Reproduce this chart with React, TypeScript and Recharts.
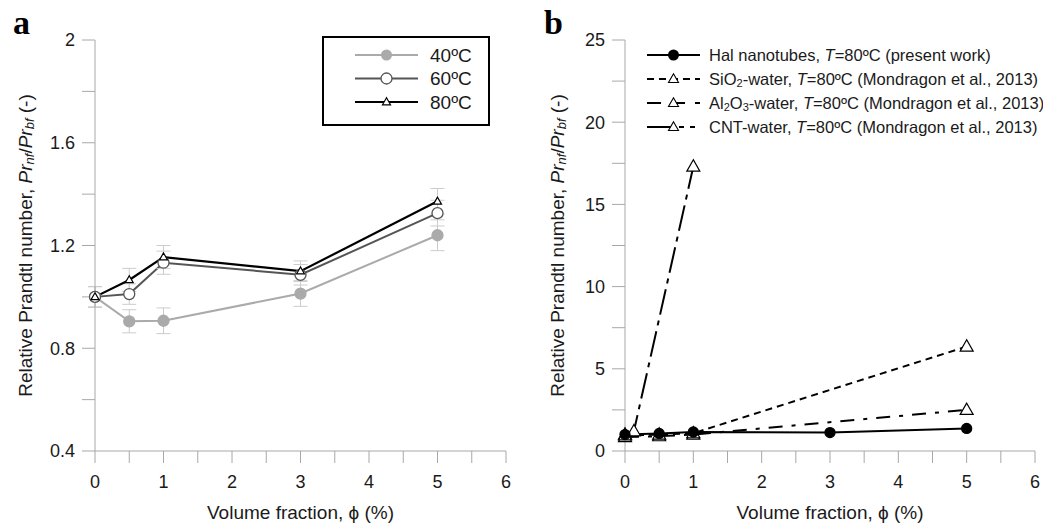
import React from 'react';
import { LineChart, Line, XAxis, YAxis, ErrorBar, Legend } from 'recharts';

// panel a: relative Prandtl number vs volume fraction, three temperatures
const fractions = [0, 0.5, 1, 3, 5];
const pr40 = [1.0, 0.905, 0.907, 1.013, 1.24];
const pr60 = [1.0, 1.011, 1.133, 1.086, 1.326];
const pr80 = [1.0, 1.066, 1.155, 1.1, 1.372];
const err40 = [0.04, 0.045, 0.05, 0.05, 0.06];
const err60 = [0.04, 0.04, 0.045, 0.04, 0.05];
const err80 = [0.04, 0.045, 0.045, 0.04, 0.05];

// panel b: comparison with literature (T = 80 ºC)
const halX = [0, 0.5, 1, 3, 5];
const halY = [1.0, 1.066, 1.155, 1.12, 1.372];
const sioX = [0, 0.5, 1, 5];
const sioY = [0.95, 1.0, 1.08, 6.35];
const alX = [0, 0.5, 1, 5];
const alY = [0.85, 0.9, 1.0, 2.5];
const cntX = [0, 0.13, 1];
const cntY = [1.0, 1.2, 17.3];

// ticks
const xTicks = [0, 0.5, 1, 1.5, 2, 2.5, 3, 3.5, 4, 4.5, 5, 5.5, 6];
const xLabels = [0, 1, 2, 3, 4, 5, 6];
const yTicksA = [0.4, 0.6, 0.8, 1.0, 1.2, 1.4, 1.6, 1.8, 2.0];
const yLabelsA = [0.4, 0.8, 1.2, 1.6, 2.0];
const yTicksB = [0, 2.5, 5, 7.5, 10, 12.5, 15, 17.5, 20, 22.5, 25];
const yLabelsB = [0, 5, 10, 15, 20, 25];

const legendA = ['40ºC', '60ºC', '80ºC'];

const dataA = fractions.map((x, i) => ({
  x, t40: pr40[i], t60: pr60[i], t80: pr80[i], e40: err40[i], e60: err60[i], e80: err80[i],
}));
const toPts = (xs: number[], ys: number[]) => xs.map((x, i) => ({ x, y: ys[i] }));

const AXIS = '#a8a8a8';
const TXT = '#1a1a1a';
const FONT = '"Liberation Sans", Arial, sans-serif';

const has = (list: number[], v: number) => list.some((l) => Math.abs(l - v) < 1e-6);
const fmt = (v: number) => String(Math.round(v * 10) / 10);

const triPoints = (cx: number, cy: number, s: number) => {
  const h = s * 0.87;
  return `${cx},${cy - h * 0.6} ${cx - s / 2},${cy + h * 0.4} ${cx + s / 2},${cy + h * 0.4}`;
};

const triDot = (s: number) => (p: any) => {
  if (p.cx == null || p.cy == null) return <g key={`n${p.index}`} />;
  return <polygon key={`t${p.index}`} points={triPoints(p.cx, p.cy, s)} fill="#fff" stroke="#000" strokeWidth={1.2} />;
};

const circleDot = (r: number, fill: string, stroke: string) => (p: any) => {
  if (p.cx == null || p.cy == null) return <g key={`n${p.index}`} />;
  return <circle key={`c${p.index}`} cx={p.cx} cy={p.cy} r={r} fill={fill} stroke={stroke} strokeWidth={1.3} />;
};

const YTitle = ({ viewBox, dx }: any) => {
  const cx = (viewBox?.x ?? 0) + dx;
  const cy = (viewBox?.y ?? 0) + (viewBox?.height ?? 0) / 2;
  return (
    <text x={cx} y={cy} transform={`rotate(-90 ${cx} ${cy})`} textAnchor="middle" dominantBaseline="central"
      fontSize={19} fill={TXT} fontFamily={FONT}>
      Relative Prandtl number, <tspan fontStyle="italic">Pr</tspan>
      <tspan fontStyle="italic" fontSize={13} dy={4}>nf</tspan>
      <tspan dy={-4}>/</tspan><tspan fontStyle="italic">Pr</tspan>
      <tspan fontStyle="italic" fontSize={13} dy={4}>bf</tspan>
      <tspan dy={-4}> (-)</tspan>
    </text>
  );
};

const XTitle = ({ viewBox }: any) => {
  const cx = (viewBox?.x ?? 0) + (viewBox?.width ?? 0) / 2;
  return (
    <text x={cx} y={512} textAnchor="middle" dominantBaseline="central" fontSize={19} fill={TXT} fontFamily={FONT}>
      Volume fraction, ϕ (%)
    </text>
  );
};

const LegendBoxA = () => (
  <svg width={172} height={94} style={{ overflow: 'visible' }}>
    <rect x={1} y={1} width={166} height={88} fill="#fff" stroke="#000" strokeWidth={2} />
    {legendA.map((name, i) => {
      const y = 19 + i * 23.5;
      const col = ['#aaaaaa', '#555555', '#000000'][i];
      return (
        <g key={name}>
          <line x1={33} x2={96} y1={y} y2={y} stroke={col} strokeWidth={2} />
          {i === 0 && <circle cx={64.5} cy={y} r={5.5} fill="#aaaaaa" />}
          {i === 1 && <circle cx={64.5} cy={y} r={5.5} fill="#fff" stroke="#555" strokeWidth={1.3} />}
          {i === 2 && <polygon points={triPoints(64.5, y, 8)} fill="#fff" stroke="#000" strokeWidth={1.2} />}
          <text x={108} y={y} dominantBaseline="central" fontSize={19} fill={TXT} fontFamily={FONT}>{name}</text>
        </g>
      );
    })}
  </svg>
);

const LegendBoxB = () => {
  const rows = [
    { dash: undefined, mark: 'dot', text: <>Hal nanotubes, <tspan fontStyle="italic">T</tspan>=80ºC (present work)</> },
    { dash: '7 5', mark: 'tri', text: <>SiO<tspan fontSize={11} dy={4}>2</tspan><tspan dy={-4}>-water, </tspan><tspan fontStyle="italic">T</tspan>=80ºC (Mondragon et al., 2013)</> },
    { dash: '14 10', mark: 'tri', text: <>Al<tspan fontSize={11} dy={4}>2</tspan><tspan dy={-4}>O</tspan><tspan fontSize={11} dy={4}>3</tspan><tspan dy={-4}>-water, </tspan><tspan fontStyle="italic">T</tspan>=80ºC (Mondragon et al., 2013)</> },
    { dash: '26 6 5 6 5 6', mark: 'tri', text: <>CNT-water, <tspan fontStyle="italic">T</tspan>=80ºC (Mondragon et al., 2013)</> },
  ];
  return (
    <svg width={400} height={100} style={{ overflow: 'visible' }}>
      {rows.map((r, i) => {
        const y = 15 + i * 24;
        return (
          <g key={i}>
            <line x1={7} x2={60} y1={y} y2={y} stroke="#000" strokeWidth={2} strokeDasharray={r.dash} />
            {r.mark === 'dot'
              ? <circle cx={33.5} cy={y} r={5.5} fill="#000" />
              : <polygon points={triPoints(33.5, y, 10)} fill="#fff" stroke="#000" strokeWidth={1.1} />}
            <text x={69} y={y} dominantBaseline="central" fontSize={16.5} fill={TXT} fontFamily={FONT}>{r.text}</text>
          </g>
        );
      })}
    </svg>
  );
};

const letter: React.CSSProperties = {
  position: 'absolute', fontFamily: '"Liberation Serif", "Times New Roman", serif', fontWeight: 'bold',
  fontSize: 34, lineHeight: '34px', color: '#000',
};

const tickStyle = { fill: TXT, fontSize: 18, fontFamily: FONT };

export default function App() {
  return (
    <div style={{ position: 'absolute', left: 0, top: 0, width: 1043, height: 523, background: '#fff', overflow: 'hidden' }}>
      <div style={{ position: 'absolute', left: 0, top: 0 }}>
        <LineChart width={520} height={523} data={dataA} margin={{ top: 40, right: 14, bottom: 0, left: 0 }}>
          <XAxis dataKey="x" type="number" domain={[0, 6]} ticks={xTicks} interval={0}
            tickFormatter={(v: number) => (has(xLabels, v) ? fmt(v) : '')}
            stroke={AXIS} tickSize={12} tickMargin={12} tick={tickStyle} height={72}
            label={<XTitle />} />
          <YAxis type="number" domain={[0.4, 2]} ticks={yTicksA} interval={0}
            tickFormatter={(v: number) => (has(yLabelsA, v) ? fmt(v) : '')}
            stroke={AXIS} tickSize={13} tickMargin={7} tick={tickStyle} width={95}
            label={<YTitle dx={25} />} />
          <Legend layout="horizontal" verticalAlign="middle" align="center" content={<LegendBoxA />}
            wrapperStyle={{ left: 322, top: 36, width: 172, height: 94 }} />
          <Line dataKey="t40" stroke="#aaaaaa" strokeWidth={2} dot={circleDot(5.5, '#aaaaaa', '#aaaaaa')}
            isAnimationActive={false} legendType="none">
            <ErrorBar dataKey="e40" direction="y" width={7} stroke="#cccccc" strokeWidth={1} />
          </Line>
          <Line dataKey="t60" stroke="#555555" strokeWidth={2} dot={circleDot(5.5, '#ffffff', '#555555')}
            isAnimationActive={false} legendType="none">
            <ErrorBar dataKey="e60" direction="y" width={7} stroke="#cccccc" strokeWidth={1} />
          </Line>
          <Line dataKey="t80" stroke="#000000" strokeWidth={2.2} dot={triDot(8)}
            isAnimationActive={false} legendType="none">
            <ErrorBar dataKey="e80" direction="y" width={7} stroke="#cccccc" strokeWidth={1} />
          </Line>
        </LineChart>
      </div>
      <div style={{ position: 'absolute', left: 520, top: 0 }}>
        <LineChart width={523} height={523} margin={{ top: 40, right: 8, bottom: 0, left: 0 }}>
          <XAxis dataKey="x" type="number" domain={[0, 6]} ticks={xTicks} interval={0}
            tickFormatter={(v: number) => (has(xLabels, v) ? fmt(v) : '')}
            stroke={AXIS} tickSize={12} tickMargin={12} tick={tickStyle} height={72}
            label={<XTitle />} />
          <YAxis type="number" domain={[0, 25]} ticks={yTicksB} interval={0}
            tickFormatter={(v: number) => (has(yLabelsB, v) ? fmt(v) : '')}
            stroke={AXIS} tickSize={13} tickMargin={7} tick={tickStyle} width={105}
            label={<YTitle dx={37} />} />
          <Legend layout="horizontal" verticalAlign="middle" align="center" content={<LegendBoxB />}
            wrapperStyle={{ left: 120, top: 40, width: 400, height: 100 }} />
          <Line data={toPts(cntX, cntY)} dataKey="y" stroke="#000" strokeWidth={2} strokeDasharray="26 6 5 6"
            dot={triDot(13)} isAnimationActive={false} legendType="none" />
          <Line data={toPts(alX, alY)} dataKey="y" stroke="#000" strokeWidth={2} strokeDasharray="14 9 4 9"
            dot={triDot(13)} isAnimationActive={false} legendType="none" />
          <Line data={toPts(sioX, sioY)} dataKey="y" stroke="#000" strokeWidth={2} strokeDasharray="7 5"
            dot={triDot(13)} isAnimationActive={false} legendType="none" />
          <Line data={toPts(halX, halY)} dataKey="y" stroke="#000" strokeWidth={2}
            dot={circleDot(5, '#000', '#000')} isAnimationActive={false} legendType="none" />
        </LineChart>
      </div>
      <div style={{ ...letter, left: 13, top: 6 }}>a</div>
      <div style={{ ...letter, left: 544, top: 6 }}>b</div>
    </div>
  );
}
